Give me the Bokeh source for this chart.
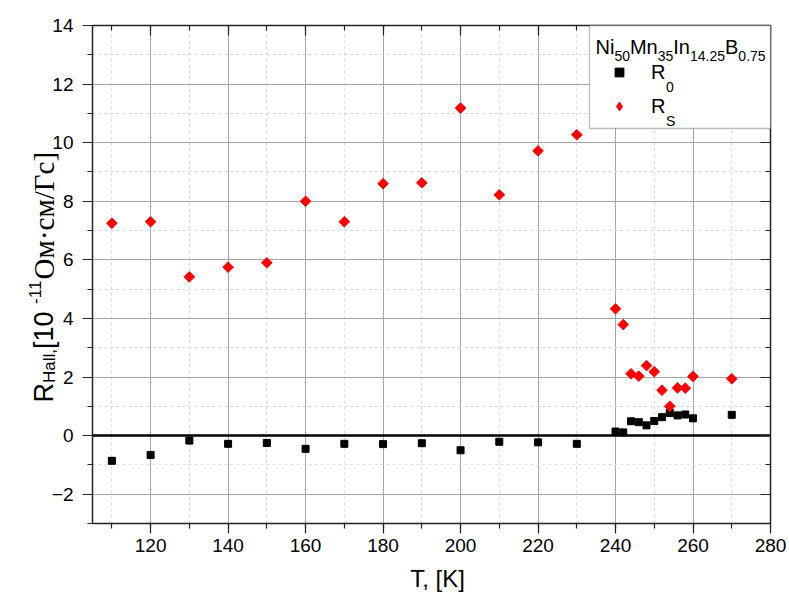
import math
from bokeh.plotting import figure
from bokeh.models import (Range1d, LinearAxis, SingleIntervalTicker, Label, Grid,
                          Legend, LegendItem, BoxAnnotation, ColumnDataSource,
                          CustomLabelingPolicy, CDSView, IndexFilter)
from bokeh.embed import file_html
from bokeh.resources import INLINE

# ---------------- data ----------------
T = [110, 120, 130, 140, 150, 160, 170, 180, 190, 200, 210, 220, 230,
     240, 242, 244, 246, 248, 250, 252, 254, 256, 258, 260, 270]
R0 = [-0.86, -0.66, -0.17, -0.28, -0.25, -0.45, -0.28, -0.29, -0.26, -0.50, -0.21, -0.23, -0.28,
      0.14, 0.11, 0.49, 0.46, 0.35, 0.50, 0.63, 0.77, 0.69, 0.72, 0.59, 0.71]
RS = [7.25, 7.30, 5.42, 5.75, 5.90, 8.00, 7.30, 8.60, 8.63, 11.18, 8.22, 9.72, 10.27,
      4.33, 3.79, 2.11, 2.03, 2.39, 2.18, 1.55, 1.00, 1.63, 1.62, 2.02, 1.94]
ZERO = 0.0
X_AXIS = (105, 280)     # visible axis span
Y_AXIS = (-3, 14)

# ---------------- layout (page pixels) ----------------
W, H = 789, 592
AX_L, AX_R, AX_T, AX_B = 92, 770, 25, 523      # where the axes box sits
ppx = (AX_R - AX_L) / (X_AXIS[1] - X_AXIS[0])
ppy = (AX_B - AX_T) / (Y_AXIS[1] - Y_AXIS[0])
# the frame covers the whole canvas so the titles are not clipped
x_start = X_AXIS[0] - AX_L / ppx
x_end = X_AXIS[1] + (W - AX_R) / ppx
y_start = Y_AXIS[0] - (H - AX_B) / ppy
y_end = Y_AXIS[1] + AX_T / ppy

def sx(px):
    return px

def sy(py):
    return H - py

SANS = "Liberation Sans"
SERIF = "Liberation Serif"
SANS_W = {"R": .722, "H": .722, "a": .556, "l": .222, ",": .278, " ": .278, "[": .278,
          "]": .278, "-": .333, "N": .722, "i": .222, "M": .833, "n": .556, "I": .278,
          "B": .667, ".": .278, "S": .667}
for d in "0123456789":
    SANS_W[d] = .556
SERIF_W = {" ": .25, "О": .722, "м": .627, "·": .25, "с": .444, "/": .278, "Г": .578, "]": .333}

def tw(s, size, table):
    return sum(table.get(c, .556) for c in s) * size

p = figure(width=W, height=H, output_backend="svg", toolbar_location=None,
           x_range=Range1d(x_start, x_end), y_range=Range1d(y_start, y_end),
           min_border_left=0, min_border_right=0, min_border_top=0, min_border_bottom=0,
           background_fill_color="white", border_fill_color="white")
p.outline_line_color = None

xt = SingleIntervalTicker(interval=20, num_minor_ticks=2)
yt = SingleIntervalTicker(interval=2, num_minor_ticks=2)
no_labels = CustomLabelingPolicy(code="return new Set()")

AX_COLOR = "#222222"
for ax, tk in ((p.xaxis[0], xt), (p.yaxis[0], yt)):
    ax.ticker = tk
    ax.level = "annotation"
    ax.axis_line_color = AX_COLOR
    ax.axis_line_width = 1.5
    ax.major_tick_line_color = AX_COLOR
    ax.major_tick_line_width = 1.2
    ax.minor_tick_line_color = AX_COLOR
    ax.minor_tick_line_width = 1.2
    ax.major_tick_out = 10
    ax.major_tick_in = 0
    ax.minor_tick_out = 5
    ax.minor_tick_in = 0
    ax.major_label_text_font = SANS
    ax.major_label_text_font_size = "19px"
    ax.major_label_text_color = "black"
p.xaxis.fixed_location = Y_AXIS[0]
p.xaxis.bounds = X_AXIS
p.yaxis.fixed_location = X_AXIS[0]
p.yaxis.bounds = Y_AXIS
p.xaxis.major_label_standoff = 5
p.yaxis.major_label_standoff = 9

common = dict(axis_line_color=AX_COLOR, axis_line_width=1.5, level="annotation",
              major_tick_line_color=AX_COLOR, minor_tick_line_color=AX_COLOR,
              major_tick_line_width=1.2, minor_tick_line_width=1.2,
              major_tick_in=10, major_tick_out=0, minor_tick_in=5, minor_tick_out=0,
              major_label_policy=no_labels, major_label_text_font_size="1px",
              major_label_standoff=0)
top = LinearAxis(ticker=xt, bounds=X_AXIS, fixed_location=Y_AXIS[1], **common)
right = LinearAxis(ticker=yt, bounds=Y_AXIS, fixed_location=X_AXIS[1], **common)
p.add_layout(top, "above")
p.add_layout(right, "right")

has_cross = "cross_bounds" in Grid.properties()
for g, tk, cb in ((p.xgrid[0], xt, Y_AXIS), (p.ygrid[0], yt, X_AXIS)):
    g.ticker = tk
    g.bounds = X_AXIS if cb is Y_AXIS else Y_AXIS
    g.grid_line_color = "#a6a6a6"
    g.grid_line_width = 1
    g.minor_grid_line_color = "#d9d9d9"
    g.minor_grid_line_dash = "3 3"
    g.minor_grid_line_width = 1
    if has_cross:
        g.cross_bounds = cb

if not has_cross:
    # white masks outside the axes box (hide grid lines there)
    for kw in (dict(right=X_AXIS[0]), dict(top=Y_AXIS[0]),
               dict(left=X_AXIS[1]), dict(bottom=Y_AXIS[1])):
        p.add_layout(BoxAnnotation(fill_color="white", fill_alpha=1.0, line_color=None,
                                   level="underlay", **kw))

# zero reference line between the axes
zsrc = ColumnDataSource(dict(x0=[X_AXIS[0]], x1=[X_AXIS[1]], y=[ZERO]))
p.segment(x0="x0", x1="x1", y0="y", y1="y", source=zsrc, line_color="black", line_width=2.5)

src = ColumnDataSource(dict(T=T, R0=R0, RS=RS))
r0 = p.scatter("T", "R0", source=src, marker="square", size=7, color="black")
rs = p.scatter("T", "RS", source=src, marker="square", size=7.5, angle=math.pi / 4,
               color="red")
# legend key for R_S: a diamond drawn over the first R_S point (hidden inside it)
rs_key = p.scatter("T", "RS", source=src, view=CDSView(filter=IndexFilter(indices=[0])),
                   marker="diamond", size=9, color="red")

# ---------------- legend ----------------
p.add_layout(BoxAnnotation(left=sx(589), right=sx(AX_R), top=sy(AX_T), bottom=sy(128),
                           left_units="screen", right_units="screen",
                           top_units="screen", bottom_units="screen",
                           fill_color="white", fill_alpha=1.0,
                           line_color="#222222", line_width=1.3, level="overlay"))

title_parts = [("Ni", False), ("50", True), ("Mn", False), ("35", True),
               ("In", False), ("14.25", True), ("B", False), ("0.75", True)]
x = 595.0
for txt, sub in title_parts:
    size = 14 if sub else 20
    base = 55.0 if sub else 46.7
    p.add_layout(Label(x=sx(x), y=sy(base), x_units="screen", y_units="screen", text=txt,
                       text_font=SANS, text_font_size=f"{size}px", text_color="black",
                       text_align="left", text_baseline="alphabetic", level="overlay"))
    x += tw(txt, size, SANS_W)

legend = Legend(items=[LegendItem(label="R", renderers=[r0]),
                       LegendItem(label="R", renderers=[rs_key])],
                location=(sx(608), sy(119)), orientation="vertical",
                padding=0, margin=0, spacing=8, glyph_width=22, glyph_height=26,
                label_height=26, label_standoff=21, label_text_font=SANS,
                label_text_font_size="20px", label_text_color="black",
                border_line_color=None, background_fill_alpha=0, level="overlay")
p.add_layout(legend, "center")

for txt, px_, py_ in (("0", 665.5, 86.7), ("S", 665.5, 120.0)):
    p.add_layout(Label(x=sx(px_), y=sy(py_), x_units="screen", y_units="screen", text=txt,
                       text_font=SANS, text_font_size="14px", text_color="black",
                       text_align="left", text_baseline="alphabetic", level="overlay"))

# ---------------- axis titles ----------------
p.add_layout(Label(x=sx(437), y=sy(578), x_units="screen", y_units="screen", text="T, [K]",
                   text_font=SANS, text_font_size="24px", text_color="black",
                   text_align="center", text_baseline="alphabetic"))

ylab = [("R", SANS, 27, 0), ("Hall,", SANS, 17, 6), (" [10", SANS, 27, 0),
        ("-11", SANS, 17, -9), (" Ом·см/Гс]", SERIF, 29, 0)]
ypos = 402.0
for txt, font, size, shift in ylab:
    p.add_layout(Label(x=sx(43 + shift), y=sy(ypos), x_units="screen", y_units="screen",
                       text=txt, text_font=font, text_font_size=f"{size}px",
                       text_color="black", angle=math.pi / 2,
                       text_align="left", text_baseline="alphabetic"))
    ypos -= tw(txt, size, SERIF_W if font == SERIF else SANS_W)

open("out.html", "w").write(file_html(p, INLINE))
